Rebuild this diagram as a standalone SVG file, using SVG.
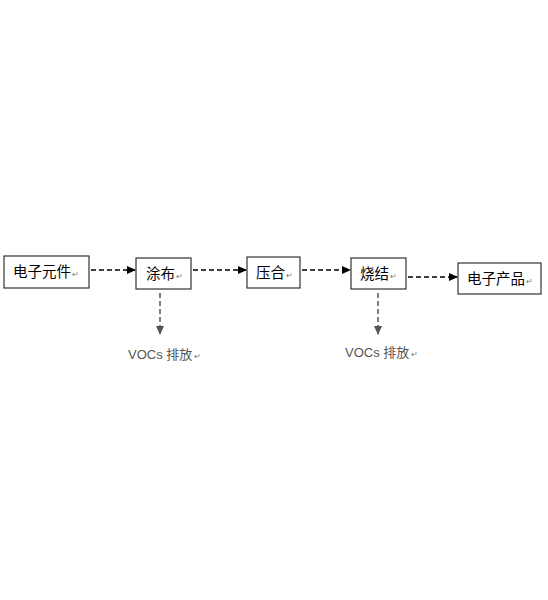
<svg xmlns="http://www.w3.org/2000/svg" width="548" height="600" viewBox="0 0 548 600">
<style>
.box{fill:#fff;stroke:#333;stroke-width:1.2}
.t{font-family:"Noto Sans CJK SC","Liberation Sans",sans-serif;font-size:14.5px;fill:#000}
.l{font-family:"Liberation Sans","Noto Sans CJK SC",sans-serif;font-size:13px;fill:#555}
.m{font-family:"Liberation Sans",sans-serif;font-size:8px;fill:#777}
.c{stroke:#000;stroke-width:1.5;stroke-dasharray:5 3;fill:none}
.v{stroke:#555;stroke-width:1.5;stroke-dasharray:5 3;fill:none}
</style>
<defs>
<marker id="ah" markerWidth="9" markerHeight="8" refX="8" refY="4" orient="auto" markerUnits="userSpaceOnUse"><path d="M0,0 L9,4 L0,8 Z" fill="#000"/></marker>
<marker id="av" markerWidth="9" markerHeight="8" refX="8" refY="4" orient="auto" markerUnits="userSpaceOnUse"><path d="M0,0 L9,4 L0,8 Z" fill="#555"/></marker>
</defs>
<rect width="548" height="600" fill="#fff"/>
<g id="connectors">
<line class="c" x1="91" y1="270" x2="135" y2="270" marker-end="url(#ah)"/>
<line class="c" x1="193" y1="270" x2="246" y2="270" marker-end="url(#ah)"/>
<line class="c" x1="302" y1="270" x2="350" y2="270" marker-end="url(#ah)"/>
<line class="c" x1="408" y1="277" x2="457" y2="277" marker-end="url(#ah)"/>
<line class="v" x1="160" y1="293" x2="160" y2="334" marker-end="url(#av)"/>
<line class="v" x1="378" y1="293" x2="378" y2="334" marker-end="url(#av)"/>
</g>
<g id="n1"><rect class="box" x="4" y="256" width="85" height="32"/><text class="t" x="13" y="277">电子元件<tspan class="m" dx="1">↵</tspan></text></g>
<g id="n2"><rect class="box" x="136" y="258" width="55" height="31"/><text class="t" x="146" y="279">涂布<tspan class="m" dx="1">↵</tspan></text></g>
<g id="n3"><rect class="box" x="247" y="257" width="53" height="31"/><text class="t" x="256" y="278">压合<tspan class="m" dx="1">↵</tspan></text></g>
<g id="n4"><rect class="box" x="351" y="258" width="55" height="31"/><text class="t" x="360" y="279">烧结<tspan class="m" dx="1">↵</tspan></text></g>
<g id="n5"><rect class="box" x="458" y="263" width="83" height="31"/><text class="t" x="467" y="284">电子产品<tspan class="m" dx="1">↵</tspan></text></g>
<g id="e1"><text class="l" x="128" y="359">VOCs 排放<tspan class="m" dx="2">↵</tspan></text></g>
<g id="e2"><text class="l" x="345" y="357">VOCs 排放<tspan class="m" dx="2">↵</tspan></text></g>
</svg>
